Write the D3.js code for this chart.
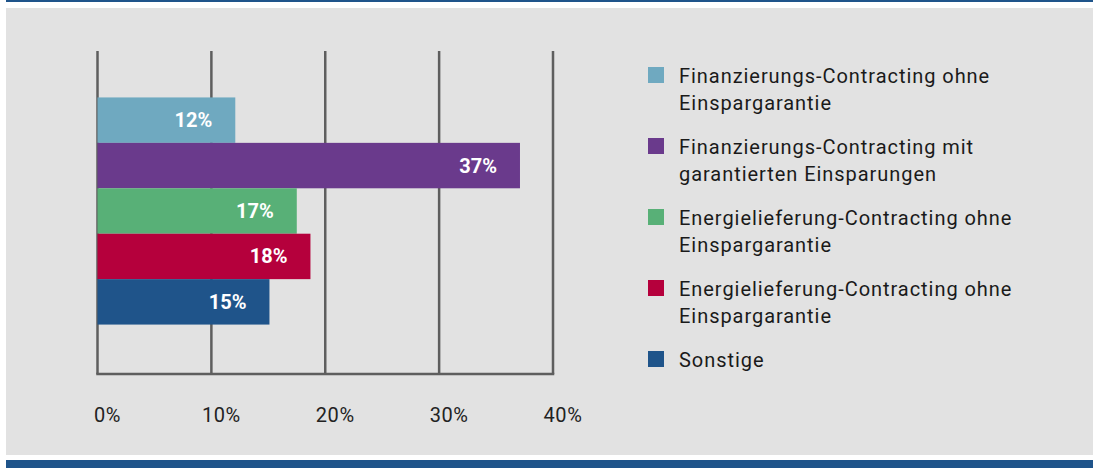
<!DOCTYPE html>
<html>
<head>
<meta charset="utf-8">
<script src="https://cdn.jsdelivr.net/npm/d3@7"></script>
<style>
  body { margin: 0; background: #fff; }
  svg { display: block; font-family: Roboto, "DejaVu Sans", sans-serif; }
</style>
</head>
<body>
<div id="chart"></div>
<script>
const width = 1094;
const height = 468;

// data
const categories = [
  "Finanzierungs-Contracting ohne Einspargarantie",
  "Finanzierungs-Contracting mit garantierten Einsparungen",
  "Energielieferung-Contracting ohne Einspargarantie",
  "Energielieferung-Contracting ohne Einspargarantie (2)",
  "Sonstige"
];
const legendLines = [
  ["Finanzierungs-Contracting ohne", "Einspargarantie"],
  ["Finanzierungs-Contracting mit", "garantierten Einsparungen"],
  ["Energielieferung-Contracting ohne", "Einspargarantie"],
  ["Energielieferung-Contracting ohne", "Einspargarantie"],
  ["Sonstige"]
];
const values = [12.1, 37.1, 17.5, 18.7, 15.1];
const valueLabels = ["12%", "37%", "17%", "18%", "15%"];
const ticks = [0, 10, 20, 30, 40];
const colors = ["#6fa9c0", "#6a3a8c", "#58b077", "#b5003c", "#1f548a"];

const svg = d3.select("#chart")
  .append("svg")
  .attr("width", width)
  .attr("height", height);

// frame: top rule, grey panel, bottom band
svg.append("rect").attr("x", 6).attr("y", 0).attr("width", 1087).attr("height", 2).attr("fill", "#1f548a");
svg.append("rect").attr("x", 6).attr("y", 8).attr("width", 1087).attr("height", 447).attr("fill", "#e2e2e2");
svg.append("rect").attr("x", 6).attr("y", 460).attr("width", 1087).attr("height", 8).attr("fill", "#1f548a");

const x = d3.scaleLinear().domain([0, 40]).range([97.5, 553]);
const y = d3.scaleBand().domain(categories).range([52, 370]).paddingOuter(1).paddingInner(0);

const gridTop = 51;
const gridBottom = 374;

// vertical grid lines
svg.append("g")
  .selectAll("line")
  .data(ticks)
  .join("line")
  .attr("x1", d => x(d))
  .attr("x2", d => x(d))
  .attr("y1", gridTop)
  .attr("y2", gridBottom)
  .attr("stroke", "#5e5e5e")
  .attr("stroke-width", 2.5);

// baseline
svg.append("line")
  .attr("x1", x(0) - 1.25)
  .attr("x2", x(40) + 1.25)
  .attr("y1", gridBottom)
  .attr("y2", gridBottom)
  .attr("stroke", "#5e5e5e")
  .attr("stroke-width", 2.5);

// tick labels
svg.append("g")
  .selectAll("text")
  .data(ticks)
  .join("text")
  .attr("x", d => x(d) + 10)
  .attr("y", 422)
  .attr("text-anchor", "middle")
  .attr("font-size", 20)
  .attr("letter-spacing", 0.6)
  .attr("fill", "#222")
  .text(d => d + "%");

// bars
svg.append("g")
  .selectAll("rect")
  .data(values)
  .join("rect")
  .attr("x", x(0))
  .attr("y", (d, i) => y(categories[i]))
  .attr("width", d => x(d) - x(0))
  .attr("height", y.bandwidth())
  .attr("fill", (d, i) => colors[i]);

// value labels
svg.append("g")
  .selectAll("text")
  .data(values)
  .join("text")
  .attr("x", d => x(d) - 23)
  .attr("y", (d, i) => y(categories[i]) + y.bandwidth() / 2 + 7)
  .attr("text-anchor", "end")
  .attr("font-size", 20)
  .attr("font-weight", "bold")
  .attr("fill", "#fff")
  .text((d, i) => valueLabels[i]);

// legend
const legend = svg.append("g")
  .selectAll("g")
  .data(legendLines)
  .join("g")
  .attr("transform", (d, i) => `translate(648, ${83 + i * 71})`);

legend.append("rect")
  .attr("x", 0)
  .attr("y", -16)
  .attr("width", 16)
  .attr("height", 16)
  .attr("fill", (d, i) => colors[i]);

legend.append("text")
  .attr("x", 31)
  .attr("y", 0)
  .attr("font-size", 20)
  .attr("letter-spacing", 0.95)
  .attr("fill", "#1a1a1a")
  .selectAll("tspan")
  .data(d => d)
  .join("tspan")
  .attr("x", 31)
  .attr("dy", (d, i) => i === 0 ? 0 : 27)
  .text(d => d);
</script>
</body>
</html>
